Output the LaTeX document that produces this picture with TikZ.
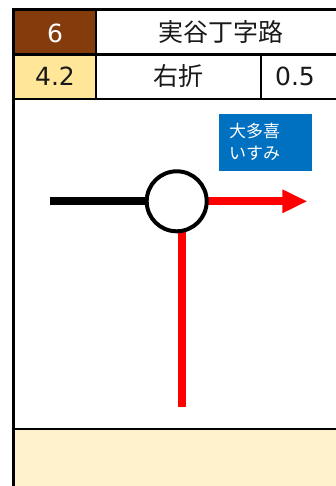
\documentclass[tikz,border=0pt]{standalone}
\usepackage{fontspec}
\setmainfont{DejaVu Sans}
\newfontfamily\cjk{Noto Sans CJK JP}
\definecolor{cellbrown}{HTML}{843C0C}
\definecolor{cellyellow}{HTML}{FFE699}
\definecolor{notecream}{HTML}{FFF2CC}
\definecolor{labelblue}{HTML}{0070C0}
\tikzset{
  x=1pt,y=-1pt,
  grid/.style={line width=2.4pt,black},
  outer/.style={line width=3.4pt,black},
  celltext/.style={font=\fontsize{25}{25}\selectfont,text=black!90,inner sep=0pt,anchor=center},
  route/.style={line width=8pt,red},
  approach/.style={line width=8pt,black},
  junction/.style={circle,draw=black,fill=white,line width=4pt,minimum size=60pt,inner sep=0pt},
  labeltext/.style={text=white,anchor=west,inner sep=0pt,font=\cjk\fontsize{17}{17}\selectfont},
}
\begin{document}
\begin{tikzpicture}
\useasboundingbox (0,0) rectangle (336,486);
\fill[white] (0,0) rectangle (336,486);
% cell fills
\fill[cellbrown] (13.5,9.5) rectangle (96,54.5);
\fill[cellyellow] (13.5,54.5) rectangle (96,99);
\fill[notecream] (13.5,429) rectangle (336,486);
% grid
\draw[grid] (13.5,54.5) -- (336,54.5);
\draw[grid] (13.5,99) -- (336,99);
\draw[grid] (96,9.5) -- (96,99);
\draw[grid] (261,54.5) -- (261,99);
\draw[grid] (13.5,429) -- (336,429);
\draw[outer] (336,9.5) -- (13.5,9.5) -- (13.5,486);
% texts
\node[celltext,text=white] (num) at (55,33) {6};
\node[celltext] (title) at (221,32.5) {\cjk 実谷丁字路};
\node[celltext] (dist) at (55,76.5) {4.2};
\node[celltext] (turn) at (178.5,76) {\cjk 右折};
\node[celltext] (next) at (295,76.5) {0.5};
% label
\node[fill=labelblue,anchor=north west,minimum width=93pt,minimum height=56.7pt,inner sep=0pt] (dest) at (219,114) {};
\node[labeltext] (dest1) at (229,131) {大多喜};
\node[labeltext] (dest2) at (229,153) {いすみ};
% route
\coordinate (cc) at (176.7,201.3);
\coordinate (w) at (49.5,201.3);
\coordinate (e) at (283,201.3);
\coordinate (s) at (182,407);
\draw[approach] (w) -- (cc);
\draw[route] (cc) -- (e);
\draw[route] (s) -- (s |- cc);
\fill[red] (282.3,189.3) -- (306.7,201.3) -- (282.3,213.3) -- cycle;
\node[junction] (c) at (cc) {};
\end{tikzpicture}
\end{document}
